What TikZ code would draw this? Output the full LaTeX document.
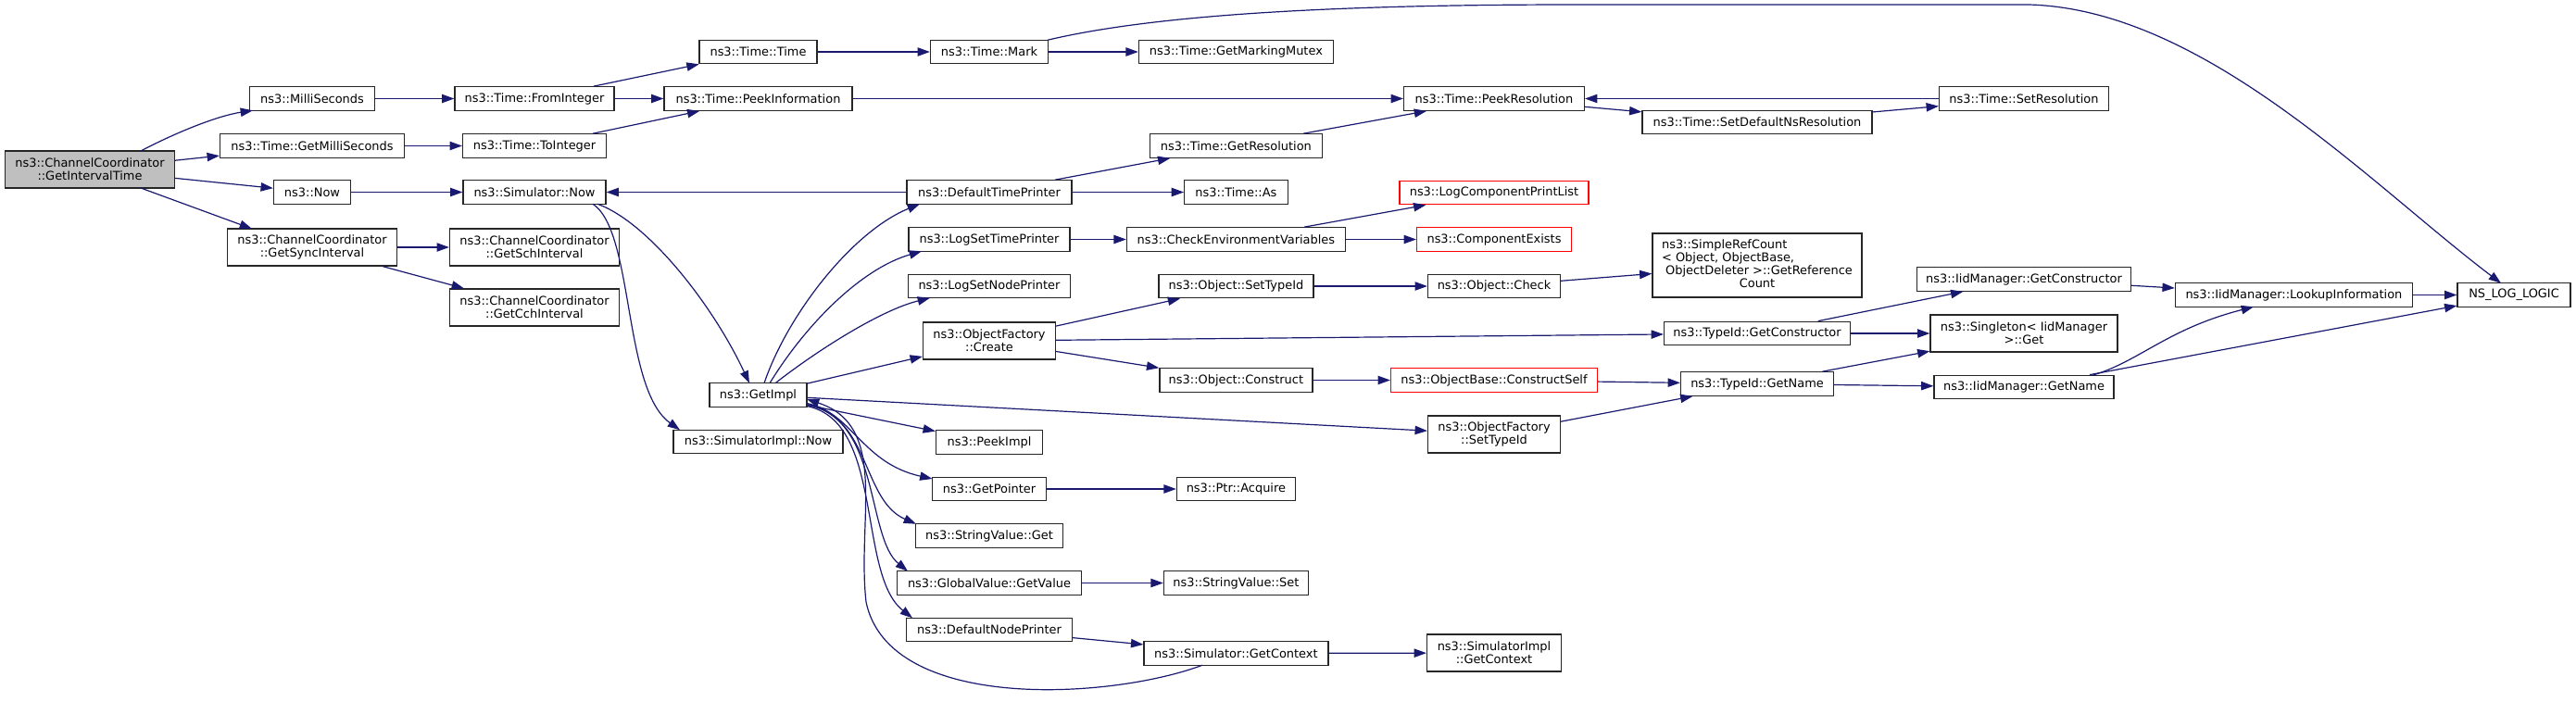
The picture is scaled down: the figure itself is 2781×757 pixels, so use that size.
\documentclass[tikz,border=0pt]{standalone}
\usepackage{fontspec}
\setmainfont{DejaVu Sans}
\usetikzlibrary{arrows.meta,calc}
\definecolor{edgeblue}{RGB}{25,25,112}
\definecolor{nodegrey}{RGB}{191,191,191}
\begin{document}
\begin{tikzpicture}[x=0.75pt,y=-0.75pt,
  fn/.style={draw=black!85, line width=0.9pt, fill=white, inner sep=0pt, align=center,
             font=\fontsize{9.7}{10.5}\selectfont, text=black},
  sz/.style 2 args={minimum width=#1*0.75pt, minimum height=#2*0.75pt},
  one/.style={sz={#1}{25.5}},
  two/.style={sz={#1}{40}},
  redfn/.style={fn, draw=red},
  rootfn/.style={fn, fill=nodegrey},
  call/.style={draw=edgeblue, line width=0.9pt, -{Triangle[length=10pt,width=7pt]}}]
\useasboundingbox (0,0) rectangle (2781,757);

% ---- nodes ----
\node[rootfn, two=183] (git) at (97,183) {ns3::ChannelCoordinator\\::GetIntervalTime};
\node[fn, one=135] (ms) at (337,106.5) {ns3::MilliSeconds};
\node[fn, one=199] (gms) at (337,157.5) {ns3::Time::GetMilliSeconds};
\node[fn, one=83] (now) at (337,207.5) {ns3::Now};
\node[fn, two=183] (gsi) at (337,267) {ns3::ChannelCoordinator\\::GetSyncInterval};
\node[fn, one=172] (fi) at (577,106.5) {ns3::Time::FromInteger};
\node[fn, one=155] (ti) at (577,157.5) {ns3::Time::ToInteger};
\node[fn, one=154] (snow) at (577,207.5) {ns3::Simulator::Now};
\node[fn, two=183] (gsch) at (577,267) {ns3::ChannelCoordinator\\::GetSchInterval};
\node[fn, two=183] (gcch) at (577,332) {ns3::ChannelCoordinator\\::GetCchInterval};
\node[fn, one=127] (tt) at (818.5,56) {ns3::Time::Time};
\node[fn, one=203] (pi) at (818.5,106.5) {ns3::Time::PeekInformation};
\node[fn, one=105] (gimpl) at (818.5,426.5) {ns3::GetImpl};
\node[fn, one=183] (sin) at (818.5,477) {ns3::SimulatorImpl::Now};
\node[fn, one=127] (mark) at (1068,56) {ns3::Time::Mark};
\node[fn, one=178] (dtp) at (1068,207.5) {ns3::DefaultTimePrinter};
\node[fn, one=174] (lstp) at (1068,258.5) {ns3::LogSetTimePrinter};
\node[fn, one=175] (lsnp) at (1068,309) {ns3::LogSetNodePrinter};
\node[fn, two=143] (ofc) at (1068,368) {ns3::ObjectFactory\\::Create};
\node[fn, one=115] (pimpl) at (1068,477.5) {ns3::PeekImpl};
\node[fn, one=123] (gptr) at (1068,528) {ns3::GetPointer};
\node[fn, one=159] (svg) at (1068,578.5) {ns3::StringValue::Get};
\node[fn, one=199] (gvgv) at (1068,629.5) {ns3::GlobalValue::GetValue};
\node[fn, one=179] (dnp) at (1068,680) {ns3::DefaultNodePrinter};
\node[fn, one=210] (gmm) at (1334.4,56) {ns3::Time::GetMarkingMutex};
\node[fn, one=186] (gres) at (1334.4,157.5) {ns3::Time::GetResolution};
\node[fn, one=111.5] (tas) at (1334.4,207.5) {ns3::Time::As};
\node[fn, one=236] (cev) at (1334.4,258.5) {ns3::CheckEnvironmentVariables};
\node[fn, one=167] (ostid) at (1334.4,309) {ns3::Object::SetTypeId};
\node[fn, one=165] (ocon) at (1334.4,410.5) {ns3::Object::Construct};
\node[fn, one=128] (pacq) at (1334.4,528) {ns3::Ptr::Acquire};
\node[fn, one=156] (svs) at (1334.4,629.5) {ns3::StringValue::Set};
\node[fn, one=199] (sgc) at (1334.4,705.5) {ns3::Simulator::GetContext};
\node[fn, one=195] (pres) at (1613,106.5) {ns3::Time::PeekResolution};
\node[redfn, one=204] (lcpl) at (1613,208) {ns3::LogComponentPrintList};
\node[redfn, one=167] (cex) at (1613,258.5) {ns3::ComponentExists};
\node[fn, one=143] (ochk) at (1613,309) {ns3::Object::Check};
\node[redfn, one=223] (cself) at (1613,410.5) {ns3::ObjectBase::ConstructSelf};
\node[fn, two=143] (ofst) at (1613,469) {ns3::ObjectFactory\\::SetTypeId};
\node[fn, two=145] (sigc) at (1613,705) {ns3::SimulatorImpl\\::GetContext};
\node[fn, one=248] (sdns) at (1897,132) {ns3::Time::SetDefaultNsResolution};
\node[fn, sz={226}{69}] (src) at (1897,286.5)
  {\begin{tabular}{@{}l@{}}ns3::SimpleRefCount\\{<} Object, ObjectBase,\\\ ObjectDeleter {>}::GetReference\\\multicolumn{1}{@{}c@{}}{Count}\end{tabular}};
\node[fn, one=201] (tgc) at (1897,360) {ns3::TypeId::GetConstructor};
\node[fn, one=165] (tgn) at (1897,414.5) {ns3::TypeId::GetName};
\node[fn, one=183] (sres) at (2185,106.5) {ns3::Time::SetResolution};
\node[fn, one=231] (igc) at (2185,301.5) {ns3::IidManager::GetConstructor};
\node[fn, two=202] (sing) at (2185,360) {ns3::Singleton{<} IidManager\\{>}::Get};
\node[fn, one=194] (ign) at (2185,418) {ns3::IidManager::GetName};
\node[fn, one=256] (ilu) at (2476.4,318.5) {ns3::IidManager::LookupInformation};
\node[fn, one=122] (nll) at (2714,318.5) {NS\_LOG\_LOGIC};

% ---- connectors ----
\draw[call] ($(git)+(55,-20)$) .. controls (190,143) and (235,125) .. ($(ms)+(-64,12.75)$);
\draw[call] (git) -- (gms);
\draw[call] (git) -- (now);
\draw[call] ($(git)+(55,20)$) -- ($(gsi)+(-65,-20)$);
\draw[call] (ms) -- (fi);
\draw[call] (gms) -- (ti);
\draw[call] (now) -- (snow);
\draw[call] (gsi) -- (gsch);
\draw[call] (gsi) -- (gcch);
\draw[call] (fi) -- (tt);
\draw[call] (fi) -- (pi);
\draw[call] (ti) -- (pi);
\draw[call] ($(snow)+(68,12.75)$) .. controls (700,240) and (770,330) .. ($(gimpl)+(-9.5,-12.75)$);
\draw[call] ($(snow)+(63,12.75)$) .. controls (685,250) and (672,420) .. ($(sin)+(-84.5,-12.75)$);
\draw[call] (tt) -- (mark);
\draw[call] (mark) -- (gmm);
\draw[call] ($(mark)+(63,-12.75)$) .. controls (1250,15) and (1450,5) .. (1700,5) -- (2190,5)
   .. controls (2380,10) and (2560,200) .. ($(nll)+(-14,-12.75)$);
\draw[call] (pi) -- (pres);
\draw[call] (gres) -- (pres);
\draw[call] (pres) -- (sdns);
\draw[call] (sdns) -- (sres);
\draw[call] (sres) -- (pres);
\draw[call] (dtp) -- (snow);
\draw[call] (dtp) -- (gres);
\draw[call] (dtp) -- (tas);
\draw[call] ($(gimpl)+(6.5,-12.75)$) .. controls (850,340) and (920,250) .. ($(dtp)+(-75,12.75)$);
\draw[call] ($(gimpl)+(12.5,-12.75)$) .. controls (870,350) and (930,290) .. ($(lstp)+(-73,12.75)$);
\draw[call] ($(gimpl)+(18.5,-12.75)$) .. controls (880,380) and (950,335) .. ($(lsnp)+(-64,12.75)$);
\draw[call] (gimpl) -- (ofc);
\draw[call] (gimpl) -- (pimpl);
\draw[call] ($(gimpl)+(52.5,9)$) .. controls (920,445) and (930,500) .. ($(gptr)+(-61.5,-11)$);
\draw[call] ($(gimpl)+(52.5,10)$) .. controls (940,450) and (930,540) .. ($(svg)+(-79,-12.75)$);
\draw[call] ($(gimpl)+(52.5,11)$) .. controls (950,450) and (935,580) .. ($(gvgv)+(-88,-12.75)$);
\draw[call] ($(gimpl)+(52.5,12)$) .. controls (955,455) and (925,620) .. ($(dnp)+(-83,-12.75)$);
\draw[call] (gimpl) -- (ofst);
\draw[call] ($(sgc)+(-36.4,12.75)$) .. controls (1200,755) and (960,770) .. (935,650)
   .. controls (925,560) and (960,460) .. ($(gimpl)+(52.5,4.5)$);
\draw[call] (lstp) -- (cev);
\draw[call] (cev) -- (lcpl);
\draw[call] (cev) -- (cex);
\draw[call] (ofc) -- (ostid);
\draw[call] (ofc) -- (tgc);
\draw[call] (ofc) -- (ocon);
\draw[call] (ostid) -- (ochk);
\draw[call] (ochk) -- (src);
\draw[call] (ocon) -- (cself);
\draw[call] (cself) -- (tgn);
\draw[call] (ofst) -- (tgn);
\draw[call] (tgc) -- (igc);
\draw[call] (tgc) -- (sing);
\draw[call] (tgn) -- (sing);
\draw[call] (tgn) -- (ign);
\draw[call] (igc) -- (ilu);
\draw[call] ($(ign)+(74,-12.75)$) .. controls (2310,390) and (2340,355) .. ($(ilu)+(-43.4,12.75)$);
\draw[call] (ign) -- (nll);
\draw[call] (ilu) -- (nll);
\draw[call] (gptr) -- (pacq);
\draw[call] (gvgv) -- (svs);
\draw[call] (dnp) -- (sgc);
\draw[call] (sgc) -- (sigc);
\end{tikzpicture}
\end{document}
